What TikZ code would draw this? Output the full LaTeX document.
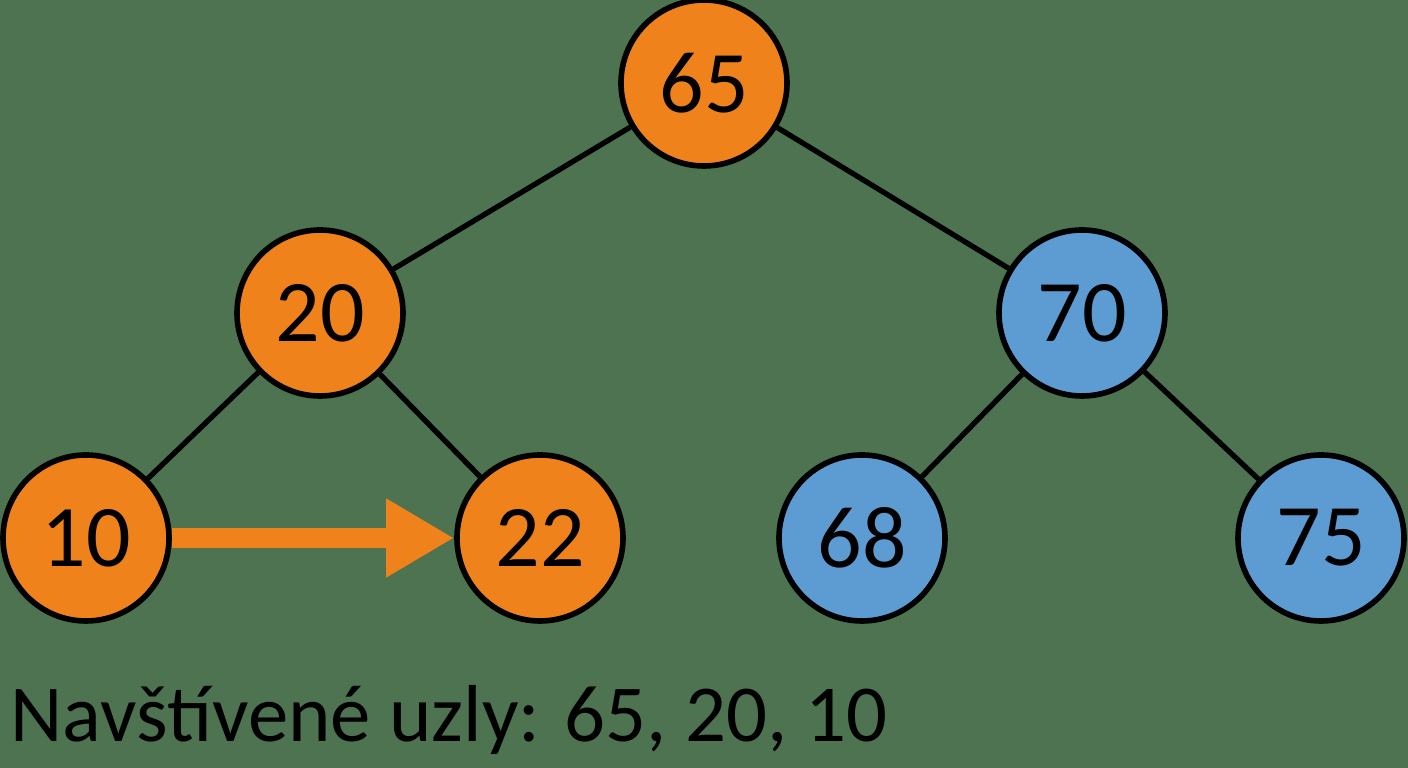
\documentclass[tikz,border=0pt]{standalone}
\usepackage{fontspec}
\setmainfont{Carlito}
\usetikzlibrary{arrows.meta}
\definecolor{bgreen}{HTML}{4D7350}
\definecolor{korange}{HTML}{F0821C}
\definecolor{kblue}{HTML}{5D9BD3}
\tikzset{
    uzel/.style={circle,draw=black,line width=1.6pt,minimum size=1.66cm,inner sep=0pt,font=\fontsize{25}{28}\selectfont},
    navst/.style={uzel,fill=korange},
    nenavst/.style={uzel,fill=kblue},
    hrana/.style={line width=1.5pt,black}
}
\begin{document}
\begin{tikzpicture}
            \fill[bgreen] (0,0) rectangle (14.08,7.68);
            \useasboundingbox (0,0) rectangle (14.08,7.68);

            \node[navst] (u65) at (7.04,6.85) {65};
            \node[navst] (u20) at (3.20,4.55) {20};
            \node[nenavst] (u70) at (10.82,4.55) {70};
            \node[navst] (u10) at (0.86,2.30) {10};
            \node[navst] (u22) at (5.40,2.30) {22};
            \node[nenavst] (u68) at (8.62,2.30) {68};
            \node[nenavst] (u75) at (13.21,2.30) {75};

            \draw[hrana] (u65) -- (u20);
            \draw[hrana] (u65) -- (u70);
            \draw[hrana] (u20) -- (u10);
            \draw[hrana] (u20) -- (u22);
            \draw[hrana] (u70) -- (u68);
            \draw[hrana] (u70) -- (u75);

            \draw[korange,line width=0.2cm,-{Triangle[length=0.68cm,width=0.74cm]}] (u10) -- (u22);

            \node[anchor=base west,font=\fontsize{23}{27}\selectfont,inner sep=0pt] (popis) at (0.10,0.26) {Navštívené uzly: 65, 20, 10};
        \end{tikzpicture}
\end{document}
